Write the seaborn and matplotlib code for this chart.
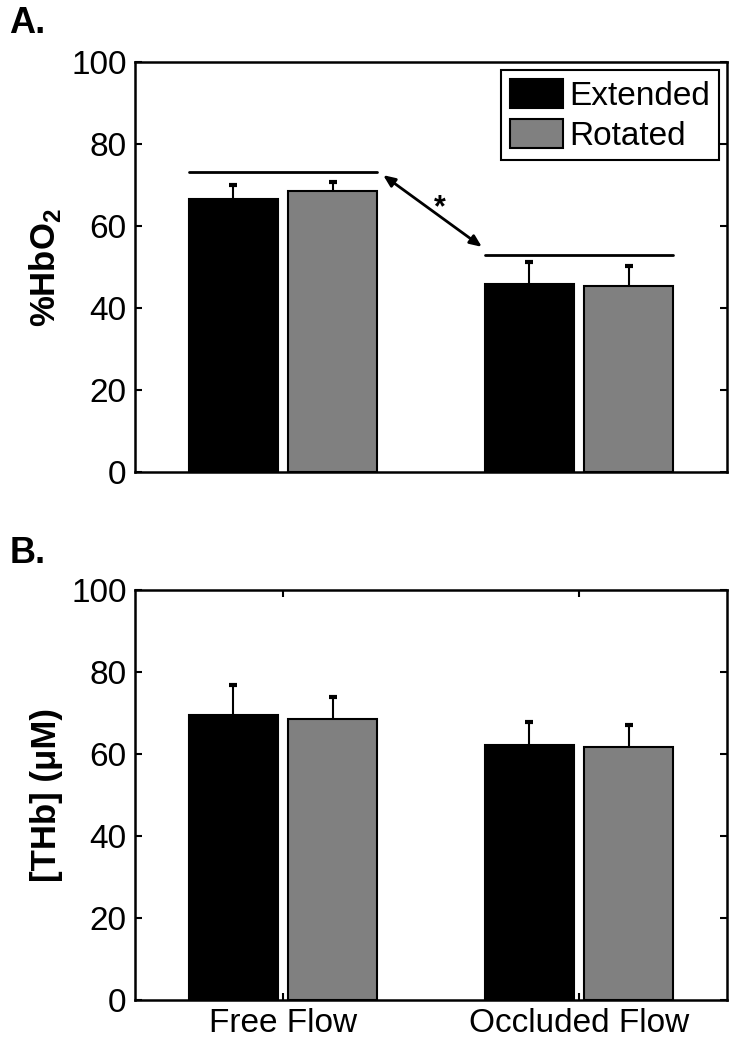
import numpy as np
import pandas as pd
import matplotlib
matplotlib.use("Agg")
import matplotlib.pyplot as plt
import seaborn as sns
from matplotlib.patches import Patch

# Данные
conditions = ["Free Flow", "Occluded Flow"]
postures = ["Extended", "Rotated"]

hbo2_extended = [66.5, 45.8]
hbo2_rotated = [68.5, 45.3]
hbo2_extended_sd = [3.6, 5.3]
hbo2_rotated_sd = [2.2, 4.9]

thb_extended = [69.5, 62.2]
thb_rotated = [68.5, 61.8]
thb_extended_sd = [7.3, 5.6]
thb_rotated_sd = [5.3, 5.3]

# линии значимости над группами (панель A)
sig_levels = [73.2, 52.9]

colors = ["black", "#808080"]

sns.set_style("ticks")
plt.rcParams["font.family"] = ["Liberation Sans", "DejaVu Sans"]
plt.rcParams["mathtext.fontset"] = "custom"
plt.rcParams["mathtext.rm"] = "Liberation Sans"
plt.rcParams["mathtext.bf"] = "Liberation Sans:bold"
for key in ["text.color", "axes.labelcolor", "xtick.color", "ytick.color", "axes.edgecolor"]:
    plt.rcParams[key] = "black"


def make_df(ext, rot):
    rows = []
    for i, c in enumerate(conditions):
        rows.append({"cond": c, "posture": "Extended", "value": ext[i]})
        rows.append({"cond": c, "posture": "Rotated", "value": rot[i]})
    return pd.DataFrame(rows)


def draw_panel(ax, ext, rot, ext_sd, rot_sd, ylabel):
    df = make_df(ext, rot)
    sns.barplot(data=df, x="cond", y="value", hue="posture", order=conditions,
                hue_order=postures, palette=colors, edgecolor="black", linewidth=1.5,
                width=0.67, gap=0.1, errorbar=None, legend=False, ax=ax)
    bars = sorted(ax.patches, key=lambda p: p.get_x())
    sds = np.array([ext_sd[0], rot_sd[0], ext_sd[1], rot_sd[1]])
    xs = np.array([p.get_x() + p.get_width() / 2 for p in bars])
    hs = np.array([p.get_height() for p in bars])
    # только верхняя половина погрешности, как в оригинале
    ax.vlines(xs, hs, hs + sds, color="black", lw=1.5, zorder=5)
    ax.plot(xs, hs + sds, ls="none", marker="_", ms=6, mew=3, color="black", zorder=5)

    ax.set_xlim(-0.5, 1.5)
    ax.set_ylim(0, 100)
    ax.set_yticks([0, 20, 40, 60, 80, 100])
    ax.set_xlabel("")
    ax.set_ylabel(ylabel, fontsize=25, fontweight="bold", labelpad=6)
    ax.tick_params(axis="both", direction="in", length=5, width=1.5, labelsize=24,
                   right=True, top=True, pad=6, colors="black")
    for s in ax.spines.values():
        s.set_visible(True)
        s.set_linewidth(1.8)
        s.set_color("black")
    return bars


fig = plt.figure(figsize=(7.37, 10.5), dpi=100)
ax1 = fig.add_axes([0.1832, 0.5505, 0.8033, 0.3905])
ax2 = fig.add_axes([0.1832, 0.0476, 0.8033, 0.3905])

# A. %HbO2
bars = draw_panel(ax1, hbo2_extended, hbo2_rotated, hbo2_extended_sd, hbo2_rotated_sd,
                  r"%HbO$_\mathbf{2}$")
ax1.set_xticks([])
ax1.tick_params(axis="x", top=False, bottom=False)

left_x0 = bars[0].get_x()
left_x1 = bars[1].get_x() + bars[1].get_width()
right_x0 = bars[2].get_x()
right_x1 = bars[3].get_x() + bars[3].get_width()
ax1.plot([left_x0, left_x1], [sig_levels[0], sig_levels[0]], color="black", lw=2)
ax1.plot([right_x0, right_x1], [sig_levels[1], sig_levels[1]], color="black", lw=2)
ax1.annotate("", xy=(right_x0 - 0.01, sig_levels[1] + 2.0),
             xytext=(left_x1 + 0.02, sig_levels[0] - 0.8),
             arrowprops=dict(arrowstyle="<|-|>,head_length=0.7,head_width=0.3",
                             color="black", lw=2, shrinkA=0, shrinkB=0))
ax1.annotate("*", xy=((left_x1 + right_x0) / 2, (sig_levels[0] + sig_levels[1]) / 2),
             xytext=(6, 4), textcoords="offset points", ha="center", va="center",
             fontsize=22, fontweight="bold")

ax1.legend(handles=[Patch(facecolor=colors[0], edgecolor="black", lw=1.5),
                    Patch(facecolor=colors[1], edgecolor="black", lw=1.5)],
           labels=postures, loc="upper right", fontsize=24, frameon=True,
           fancybox=False, framealpha=1, edgecolor="black", borderpad=0.25,
           handlelength=1.6, handleheight=1.0, handletextpad=0.2, labelspacing=0.2,
           borderaxespad=0.25).get_frame().set_linewidth(1.5)

# B. [THb]
draw_panel(ax2, thb_extended, thb_rotated, thb_extended_sd, thb_rotated_sd, "[THb] (μM)")
ax2.set_xticks([0, 1])
ax2.set_xticklabels(conditions, fontsize=24)

fig.text(0.013, 0.9686, "A.", fontsize=26, fontweight="bold", va="baseline", ha="left")
fig.text(0.013, 0.4638, "B.", fontsize=26, fontweight="bold", va="baseline", ha="left")

fig.savefig("out.png", dpi=100)
